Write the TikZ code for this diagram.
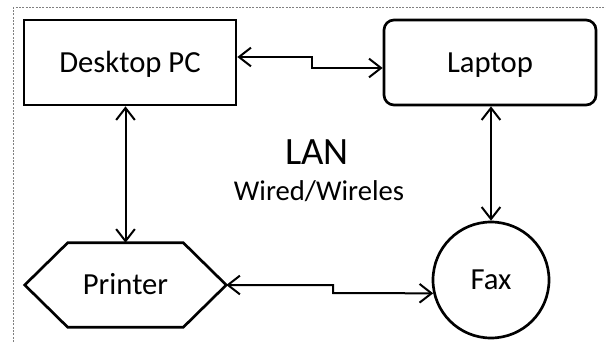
\documentclass[tikz,border=0pt]{standalone}
\usepackage{fontspec}
\setmainfont{Carlito}
\usetikzlibrary{arrows.meta}
\begin{document}
\begin{tikzpicture}[x=0.75pt,y=-0.75pt,
  shapeline/.style={draw=black, line width=2pt},
  devtext/.style={font=\fontsize{23}{27}\selectfont, text height=14.8pt, text depth=0pt, inner sep=0pt},
  devbox/.style={shapeline, devtext, minimum width=159pt, minimum height=63.75pt},
  link/.style={line width=1.5pt, {Straight Barb[length=9pt,width=14pt]}-{Straight Barb[length=9pt,width=14pt]}},
  frameline/.style={draw=gray, line width=0.75pt, dash pattern=on 1.5pt off 1pt}]
\useasboundingbox (0,0) rectangle (606,342);

% outer dotted frame
\draw[frameline] (13,342) -- (13,8) -- (606,8);

% devices
\node[devbox] (desktop) at (130,62.5) {Desktop PC};
\node[devbox, rounded corners=7.5pt] (laptop) at (490,62.5) {Laptop};
\node[devtext, minimum width=150.75pt, minimum height=63pt] (printer) at (125.5,285) {Printer};
\draw[shapeline] (printer.west) -- ([xshift=32.25pt]printer.north west)
  -- ([xshift=-32.25pt]printer.north east) -- (printer.east)
  -- ([xshift=-32.25pt]printer.south east) -- ([xshift=32.25pt]printer.south west) -- cycle;
\node[shapeline, devtext, circle, minimum size=87pt] (fax) at (491,280) {Fax};

% network labels
\node[font=\fontsize{29}{33}\selectfont, anchor=base, inner sep=0pt] (lan) at (317,165) {LAN};
\node[font=\fontsize{21.5}{25}\selectfont, anchor=base, inner sep=0pt] (medium) at (319,200) {Wired/Wireles};

% links
\draw[link] (desktop.east |- 0,57) -- (312,57) -- (312,68) -- (laptop.west |- 0,68);
\draw[link] (printer.north |- desktop.south) -- (printer.north);
\draw[link] (fax.north |- laptop.south) -- (fax.north);
\draw[link] (printer.east) -- (333,285) -- (333,293) -- (fax.193);
\end{tikzpicture}
\end{document}
